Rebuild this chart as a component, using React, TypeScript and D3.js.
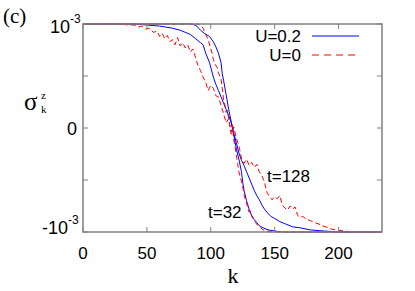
import * as d3 from 'd3'

type Pt = [number, number]

// sigma_k^z in units of 1e-3
const blue32: Pt[] = [[0,1],[86,1],[89,0.98],[92,0.94],[95,0.91],[99,0.88],[102,0.83],[104,0.78],[106,0.72],[108,0.63],[109,0.52],[110,0.46],[112,0.32],[114,0.18],[115,0.12],[117,0.0],[118,-0.07],[120,-0.2],[122,-0.3],[124,-0.42],[125,-0.52],[126,-0.6],[128,-0.7],[130,-0.78],[132,-0.84],[134,-0.88],[136,-0.91],[138,-0.94],[141,-0.96],[145,-0.98],[150,-0.99],[156,-1],[234,-1]]

const red32: Pt[] = [[0,1],[90,1],[92,0.99],[94,0.96],[96,0.9],[98,0.85],[100,0.76],[101,0.72],[102,0.66],[103,0.62],[105,0.58],[106,0.53],[108,0.47],[109,0.38],[110,0.27],[111,0.22],[112,0.15],[113,0.17],[114,0.09],[115,0.02],[116,-0.04],[117,0.03],[118,-0.12],[119,-0.18],[120,-0.26],[121,-0.34],[122,-0.42],[123,-0.47],[124,-0.51],[125,-0.57],[126,-0.63],[127,-0.69],[128,-0.72],[129,-0.77],[130,-0.81],[131,-0.8],[132,-0.85],[133,-0.87],[135,-0.91],[137,-0.94],[139,-0.96],[141,-0.98],[144,-0.99],[148,-1],[234,-1]]

const blue128: Pt[] = [[0,1],[40,1],[50,0.99],[60,0.98],[70,0.96],[76,0.94],[80,0.92],[84,0.9],[88,0.86],[92,0.82],[94,0.8],[96,0.72],[99,0.63],[102,0.49],[104,0.42],[106,0.36],[108,0.3],[110,0.24],[112,0.18],[114,0.12],[116,0.05],[118,-0.05],[120,-0.14],[122,-0.24],[124,-0.31],[126,-0.36],[128,-0.42],[130,-0.48],[132,-0.54],[134,-0.6],[136,-0.65],[138,-0.69],[140,-0.74],[142,-0.78],[144,-0.81],[147,-0.85],[150,-0.87],[154,-0.9],[158,-0.92],[164,-0.95],[170,-0.96],[178,-0.98],[188,-0.99],[200,-1],[234,-1]]

const red128: Pt[] = [[0,1],[30,1],[36,0.99],[40,0.99],[43,0.97],[46,0.98],[49,0.95],[52,0.96],[55,0.92],[58,0.93],[60,0.88],[62,0.91],[64,0.86],[66,0.89],[68,0.83],[70,0.85],[72,0.8],[74,0.87],[76,0.79],[78,0.82],[80,0.77],[82,0.8],[84,0.73],[86,0.76],[88,0.68],[90,0.6],[92,0.55],[94,0.49],[96,0.44],[98,0.36],[100,0.41],[102,0.38],[104,0.31],[106,0.3],[108,0.22],[110,0.14],[112,0.05],[114,0.09],[116,-0.06],[118,0.01],[120,-0.1],[122,-0.17],[124,-0.29],[126,-0.34],[128,-0.3],[130,-0.36],[132,-0.33],[134,-0.38],[136,-0.35],[138,-0.42],[140,-0.46],[142,-0.52],[144,-0.62],[146,-0.66],[148,-0.69],[150,-0.66],[152,-0.68],[154,-0.65],[156,-0.74],[158,-0.77],[160,-0.79],[162,-0.75],[164,-0.78],[166,-0.76],[168,-0.84],[170,-0.86],[172,-0.85],[175,-0.88],[178,-0.89],[181,-0.91],[184,-0.92],[187,-0.94],[190,-0.95],[194,-0.97],[198,-0.98],[204,-0.99],[212,-1],[234,-1]]

const xTicks = [0, 50, 100, 150, 200]
const yTicks = [-1, -0.5, 0, 0.5, 1]
const legend = [
  { label: 'U=0.2', color: '#0000ff', dash: '' },
  { label: 'U=0', color: '#ff0000', dash: '7,5' },
]

const W = 415
const H = 291
const m = { left: 83, right: 382, top: 24, bottom: 232 }
const sans = '"Liberation Sans", Arial, sans-serif'
const serif = '"Liberation Serif", "Times New Roman", serif'

export default function App() {
  const x = d3.scaleLinear().domain([0, 234]).range([m.left, m.right])
  const y = d3.scaleLinear().domain([-1, 1]).range([m.bottom, m.top])
  const line = d3.line<Pt>().x(d => x(d[0])).y(d => y(d[1]))
  const axis = '#808080'

  return (
    <svg width={W} height={H} style={{ position: 'absolute', left: 0, top: 0, background: '#fff' }}>
      {/* curves */}
      <path d={line(blue128) || ''} fill="none" stroke="#0000ff" strokeWidth={1} />
      <path d={line(blue32) || ''} fill="none" stroke="#0000ff" strokeWidth={1} />
      <path d={line(red128) || ''} fill="none" stroke="#ff0000" strokeWidth={1} strokeDasharray="5,3" />
      <path d={line(red32) || ''} fill="none" stroke="#ff0000" strokeWidth={1} strokeDasharray="5,3" />

      {/* frame */}
      <rect x={m.left} y={m.top} width={m.right - m.left} height={m.bottom - m.top}
        fill="none" stroke={axis} strokeWidth={1.5} />
      {xTicks.map(t => (
        <g key={'x' + t}>
          <line x1={x(t)} x2={x(t)} y1={m.bottom} y2={m.bottom - 5} stroke={axis} strokeWidth={1} />
          <line x1={x(t)} x2={x(t)} y1={m.top} y2={m.top + 5} stroke={axis} strokeWidth={1} />
          <text x={x(t)} y={259} textAnchor="middle" fontFamily={sans} fontSize={17}>{t}</text>
        </g>
      ))}
      {yTicks.map(t => (
        <g key={'y' + t}>
          <line x1={m.left} x2={m.left + 5} y1={y(t)} y2={y(t)} stroke={axis} strokeWidth={1} />
          <line x1={m.right} x2={m.right - 5} y1={y(t)} y2={y(t)} stroke={axis} strokeWidth={1} />
        </g>
      ))}
      <text x={77} y={y(0) + 7} textAnchor="end" fontFamily={sans} fontSize={18}>0</text>
      <text x={70} y={y(1) + 9} textAnchor="end" fontFamily={sans} fontSize={18}>10</text>
      <text x={70} y={y(1) - 1} fontFamily={sans} fontSize={12}>-3</text>
      <text x={68} y={y(-1) + 2} textAnchor="end" fontFamily={sans} fontSize={18}>-10</text>
      <text x={68} y={y(-1) - 8} fontFamily={sans} fontSize={12}>-3</text>

      {/* axis titles */}
      <text x={233} y={283} textAnchor="middle" fontFamily={serif} fontSize={22}>k</text>
      <text x={24} y={110} fontFamily={serif} fontSize={25}>σ</text>
      <text x={41} y={99} fontFamily={serif} fontSize={11}>z</text>
      <text x={41} y={113} fontFamily={serif} fontSize={11}>k</text>
      <text x={3} y={23} fontFamily={serif} fontSize={21}>(c)</text>

      {/* annotations */}
      <text x={267} y={182} fontFamily={sans} fontSize={17}>t=128</text>
      <text x={208} y={218} fontFamily={sans} fontSize={17}>t=32</text>

      {/* legend */}
      {legend.map((l, i) => (
        <g key={l.label}>
          <text x={301} y={42 + i * 19} textAnchor="end" fontFamily={sans} fontSize={17}>{l.label}</text>
          <line x1={312} x2={359} y1={36 + i * 19} y2={36 + i * 19} stroke={l.color} strokeWidth={1}
            strokeDasharray={l.dash} />
        </g>
      ))}
    </svg>
  )
}
